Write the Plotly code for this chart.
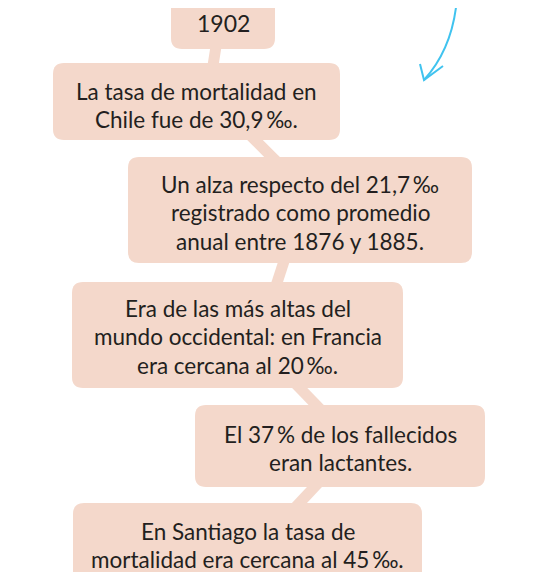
import plotly.graph_objects as go

# ---- content (data) ----
year_label = "1902"
box_lines = [
    ["La tasa de mortalidad en", "Chile fue de 30,9\u2009‰."],
    ["Un alza respecto del 21,7\u2009‰", "registrado como promedio", "anual entre 1876 y 1885."],
    ["Era de las más altas del", "mundo occidental: en Francia", "era cercana al 20\u2009‰."],
    ["El 37\u2009% de los fallecidos", "eran lactantes."],
    ["En Santiago la tasa de", "mortalidad era cercana al 45\u2009‰."],
]

# ---- geometry (screen-pixel data coordinates) ----
W, H = 533, 572
OFF = 8  # page body margin in the browser
year_box = (171, -12, 275, 49)
boxes = [
    (53, 63, 340, 140),
    (128, 157, 472, 263),
    (72, 282, 403, 388),
    (195, 405, 485, 487),
    (73, 503, 422, 590),
]
first_line_y = [91, 184, 308, 434, 531]
line_gap = 28.5
connectors = [
    ((217, 40), (212, 72)),
    ((245, 130), (283, 168)),
    ((287, 252), (274, 292)),
    ((292, 380), (321, 410)),
    ((321, 480), (291, 512)),
]

BOX = "#F4D8CB"
TXT = "#231F20"
BLUE = "#40C3EF"
FONT = "Lato"
R = 11


def rounded(x0, y0, x1, y1, r=R):
    return (f"M {x0+r} {y0} L {x1-r} {y0} Q {x1} {y0} {x1} {y0+r} "
            f"L {x1} {y1-r} Q {x1} {y1} {x1-r} {y1} L {x0+r} {y1} "
            f"Q {x0} {y1} {x0} {y1-r} L {x0} {y0+r} Q {x0} {y0} {x0+r} {y0} Z")


fig = go.Figure()
shapes = []
for (a, b) in connectors:
    shapes.append(dict(type="line", xref="x", yref="y", x0=a[0], y0=a[1], x1=b[0], y1=b[1],
                       line=dict(color=BOX, width=11), layer="below"))
for bx in [year_box] + boxes:
    shapes.append(dict(type="path", xref="x", yref="y", path=rounded(*bx),
                       fillcolor=BOX, line=dict(width=0), layer="below"))
# blue hand-drawn arrow
shapes.append(dict(type="path", xref="x", yref="y", path="M 457 -2 Q 453 48 424 80",
                   line=dict(color=BLUE, width=2)))
shapes.append(dict(type="path", xref="x", yref="y", path="M 420 64 L 424 80 L 443 66",
                   line=dict(color=BLUE, width=2)))

annotations = [dict(x=(year_box[0] + year_box[2]) / 2, y=23, xref="x", yref="y",
                    text=year_label, showarrow=False,
                    font=dict(family=FONT, size=23, color=TXT),
                    xanchor="center", yanchor="middle")]
for bx, lines, y0 in zip(boxes, box_lines, first_line_y):
    cx = (bx[0] + bx[2]) / 2
    for i, ln in enumerate(lines):
        annotations.append(dict(x=cx, y=y0 + i * line_gap, xref="x", yref="y", text=ln,
                                showarrow=False, font=dict(family=FONT, size=22.5, color=TXT),
                                xanchor="center", yanchor="middle"))

fig.update_layout(
    width=W, height=H, margin=dict(l=0, r=0, t=0, b=0),
    paper_bgcolor="white", plot_bgcolor="white",
    xaxis=dict(range=[OFF, W + OFF], visible=False, fixedrange=True),
    yaxis=dict(range=[H + OFF, OFF], visible=False, fixedrange=True),
    shapes=shapes, annotations=annotations, showlegend=False,
)
fig.write_html("out.html")
